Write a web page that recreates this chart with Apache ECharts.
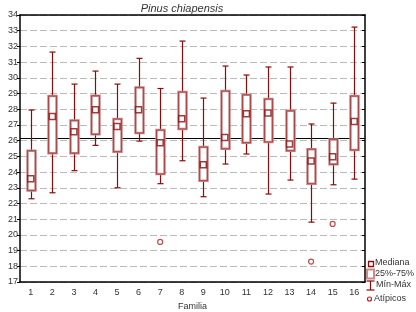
<!DOCTYPE html>
<html>
<head>
<meta charset="utf-8">
<script src="https://cdn.jsdelivr.net/npm/echarts@6/dist/echarts.min.js"></script>
<style>
html,body{margin:0;padding:0;background:#fff;}
#main{width:416px;height:312px;}
</style>
</head>
<body>
<div id="main"></div>
<script>
// datos
var familias = ['1','2','3','4','5','6','7','8','9','10','11','12','13','14','15','16'];
var minimos  = [22.30, 22.68, 24.09, 25.70, 23.00, 25.97, 23.26, 24.72, 22.43, 24.51, 25.15, 22.60, 23.49, 20.81, 23.19, 23.55];
var q25      = [22.82, 25.20, 25.20, 26.40, 25.30, 26.48, 23.87, 26.74, 23.45, 25.48, 25.87, 25.91, 25.36, 23.26, 24.49, 25.40];
var medianas = [23.57, 27.54, 26.57, 27.97, 26.90, 27.97, 25.87, 27.40, 24.47, 26.20, 27.71, 27.76, 25.78, 24.70, 24.97, 27.22];
var q75      = [25.36, 28.84, 27.29, 28.86, 27.38, 29.39, 26.67, 29.10, 25.59, 29.16, 28.92, 28.65, 27.90, 25.46, 26.08, 28.84];
var maximos  = [27.95, 31.64, 29.60, 30.43, 29.60, 31.24, 29.32, 32.34, 28.71, 30.75, 30.18, 30.69, 30.69, 27.06, 28.39, 33.23];
var atipFam  = ['7', '14', '15'];
var atipVal  = [19.55, 18.30, 20.70];
var mediaGeneral = 26.15;

var oscuro = '#8b0a0a';
var rosa = '#c98a8a';
var fuente = 'Liberation Sans';

var cajas = [];
var meds = [];
for (var i = 0; i < familias.length; i++) {
    cajas.push([i, minimos[i], q25[i], medianas[i], q75[i], maximos[i]]);
    meds.push([familias[i], medianas[i]]);
}
var atip = [];
for (var j = 0; j < atipFam.length; j++) {
    atip.push([atipFam[j], atipVal[j]]);
}

function dibujaCaja(params, api) {
    var idx = api.value(0);
    var pMin = api.coord([idx, api.value(1)]);
    var pQ1 = api.coord([idx, api.value(2)]);
    var pQ3 = api.coord([idx, api.value(4)]);
    var pMax = api.coord([idx, api.value(5)]);
    var x = Math.round(pMin[0]) + 0.5;
    var hw = 4, cap = 3;
    var lst = {stroke: oscuro, lineWidth: 1.2};
    return {
        type: 'group',
        children: [
            {type: 'line', shape: {x1: x, y1: pMin[1], x2: x, y2: pMax[1]}, style: lst},
            {type: 'line', shape: {x1: x - cap, y1: pMin[1], x2: x + cap, y2: pMin[1]}, style: lst},
            {type: 'line', shape: {x1: x - cap, y1: pMax[1], x2: x + cap, y2: pMax[1]}, style: lst},
            {type: 'rect', shape: {x: x - hw, y: pQ3[1], width: hw * 2, height: pQ1[1] - pQ3[1]},
                style: {fill: '#fff', stroke: rosa, lineWidth: 2.5}},
            {type: 'rect', shape: {x: x - hw, y: pQ3[1], width: hw * 2, height: pQ1[1] - pQ3[1]},
                style: {fill: 'none', stroke: '#a33a3a', lineWidth: 0.8}}
        ]
    };
}

var myChart = echarts.init(document.getElementById('main'));

var txt = {fontFamily: fuente, fontSize: 9, color: '#333'};

option = {
    animation: false,
    backgroundColor: '#fff',
    title: {
        text: 'Pinus chiapensis',
        left: 177, top: -2, textAlign: 'center',
        textStyle: {fontFamily: fuente, fontSize: 11, fontStyle: 'italic', fontWeight: 'normal', color: '#333'}
    },
    grid: {left: 20, right: 51, top: 15, bottom: 30, containLabel: false, outerBoundsMode: 'none'},
    xAxis: [{
        type: 'category',
        data: familias,
        name: 'Familia',
        nameLocation: 'middle',
        nameGap: 20,
        nameTextStyle: txt,
        axisLine: {lineStyle: {color: '#000', width: 1.5}},
        axisTick: {inside: true, length: 2, alignWithLabel: true, lineStyle: {color: '#000'}},
        axisLabel: {margin: 6, fontFamily: fuente, fontSize: 9, color: '#333'},
        splitLine: {show: false}
    }, {
        type: 'category',
        data: familias,
        position: 'top',
        axisLine: {lineStyle: {color: '#000', width: 1.5}},
        axisTick: {inside: true, length: 2, alignWithLabel: true, lineStyle: {color: '#000'}},
        axisLabel: {show: false}
    }],
    yAxis: [{
        type: 'value',
        min: 17, max: 34, interval: 1,
        name: 'Ancho (mm)',
        nameLocation: 'middle',
        nameGap: 9,
        nameTextStyle: txt,
        axisLine: {show: true, lineStyle: {color: '#000', width: 1.5}},
        axisTick: {show: true, length: 3, lineStyle: {color: '#000'}},
        axisLabel: {margin: 2, fontFamily: fuente, fontSize: 9, color: '#333'},
        splitLine: {show: true, lineStyle: {color: '#bbb', type: [7, 3], width: 1}}
    }, {
        type: 'value',
        min: 17, max: 34, interval: 1,
        position: 'right',
        axisLine: {show: true, lineStyle: {color: '#000', width: 1.5}},
        axisTick: {show: true, inside: true, length: 3, lineStyle: {color: '#000'}},
        axisLabel: {show: false},
        splitLine: {show: false}
    }],
    series: [{
        name: 'Mín-Máx',
        type: 'custom',
        renderItem: dibujaCaja,
        data: cajas,
        encode: {x: 0, y: [1, 2, 3, 4, 5]},
        z: 2,
        markLine: {
            silent: true,
            symbol: 'none',
            label: {show: false},
            lineStyle: {color: '#000', type: 'solid', width: 1.2},
            data: [{yAxis: mediaGeneral}],
            z: 1
        }
    }, {
        name: 'Mediana',
        type: 'scatter',
        symbol: 'rect',
        symbolSize: 6,
        itemStyle: {color: '#fff', borderColor: oscuro, borderWidth: 1.5},
        data: meds,
        z: 4
    }, {
        name: 'Atípicos',
        type: 'scatter',
        symbol: 'circle',
        symbolSize: 5,
        itemStyle: {color: '#fff', borderColor: '#b02020', borderWidth: 1.2},
        data: atip,
        z: 4
    }],
    // leyenda dibujada a mano
    graphic: [
        {type: 'rect', shape: {x: 368.5, y: 261.5, width: 5, height: 5}, style: {fill: '#fff', stroke: oscuro, lineWidth: 1.3}},
        {type: 'text', left: 375, top: 258, style: {text: 'Mediana', font: '9px Liberation Sans', fill: '#333'}},
        {type: 'rect', shape: {x: 367, y: 269.5, width: 7, height: 9}, style: {fill: '#fff', stroke: rosa, lineWidth: 2}},
        {type: 'text', left: 375, top: 269, style: {text: '25%-75%', font: '9px Liberation Sans', fill: '#333'}},
        {type: 'line', shape: {x1: 370.5, y1: 281, x2: 370.5, y2: 290}, style: {stroke: oscuro, lineWidth: 1.2}},
        {type: 'line', shape: {x1: 366.5, y1: 281, x2: 374.5, y2: 281}, style: {stroke: oscuro, lineWidth: 1.2}},
        {type: 'line', shape: {x1: 366.5, y1: 290, x2: 374.5, y2: 290}, style: {stroke: oscuro, lineWidth: 1.2}},
        {type: 'text', left: 376, top: 280, style: {text: 'Mín-Máx', font: '9px Liberation Sans', fill: '#333'}},
        {type: 'circle', shape: {cx: 369.5, cy: 299, r: 2}, style: {fill: '#fff', stroke: '#b02020', lineWidth: 1.2}},
        {type: 'text', left: 374, top: 294, style: {text: 'Atípicos', font: '9px Liberation Sans', fill: '#333'}}
    ]
};

myChart.setOption(option);
</script>
</body>
</html>
